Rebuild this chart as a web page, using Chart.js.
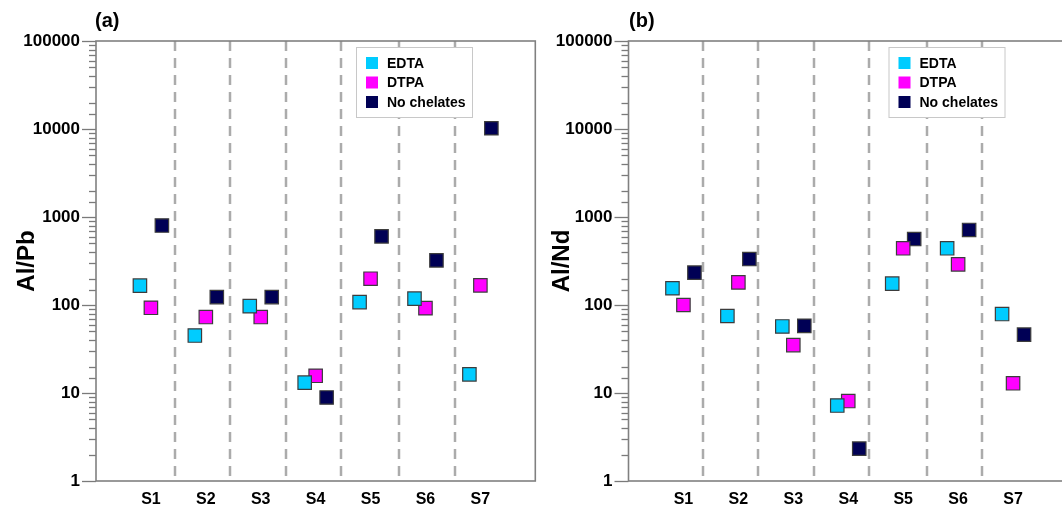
<!DOCTYPE html>
<html>
<head>
<meta charset="utf-8">
<script src="https://cdn.jsdelivr.net/npm/chart.js@4.4.0/dist/chart.umd.min.js"></script>
<style>
  html, body { margin: 0; padding: 0; background: #fff; overflow: hidden; }
  #wrap { position: relative; width: 1062px; height: 508px; overflow: hidden; }
  .panel { position: absolute; top: 0; height: 508px; }
  .tag { position: absolute; top: 9px; font: bold 20px "Liberation Sans", Arial, sans-serif; color: #000; }
</style>
</head>
<body>
<div id="wrap">
  <div class="panel" style="left:0;width:546px"><canvas id="chartA"></canvas></div>
  <div class="panel" style="left:540px;width:540px"><canvas id="chartB"></canvas></div>
  <div class="tag" style="left:95px">(a)</div>
  <div class="tag" style="left:629px">(b)</div>
</div>
<script>
const sites = ["S1", "S2", "S3", "S4", "S5", "S6", "S7"];
const seriesNames = ["EDTA", "DTPA", "No chelates"];
const yMajorTicks = [1, 10, 100, 1000, 10000, 100000];

// (a) Al/Pb
const edtaPb = [166, 45, 97, 13.1, 108, 118, 16.3];
const dtpaPb = [93, 73, 73, 15.7, 199, 92, 167];
const noChelPb = [800, 123, 123, 8.9, 603, 322, 10200];
const dividersA = [1.43, 2.44, 3.46, 4.47, 5.52, 6.54];

// (b) Al/Nd
const edtaNd = [155, 75, 57, 7.2, 175, 441, 79];
const dtpaNd = [100, 181, 35, 8.1, 441, 290, 12.9];
const noChelNd = [233, 333, 58, 2.33, 562, 712, 46];
const dividersB = [1.36, 2.36, 3.37, 4.38, 5.43, 6.44];

const colors = ["#00ccff", "#ff00ff", "#000055"];
const offsets = [-0.2, 0, 0.2];
const FONT = '"Liberation Sans", Arial, sans-serif';

const isPow10 = v => Math.abs(Math.log10(v) - Math.round(Math.log10(v))) < 1e-9;

const decor = {
  id: "decor",
  beforeDatasetsDraw(chart, args, opts) {
    const { ctx, chartArea: a, scales: { x, y } } = chart;
    ctx.save();
    // dashed site separators
    ctx.strokeStyle = "#ababab";
    ctx.lineWidth = 2.5;
    ctx.setLineDash([10, 7]);
    opts.dividers.forEach(d => {
      const px = Math.round(x.getPixelForValue(d));
      ctx.beginPath();
      ctx.moveTo(px, a.top);
      ctx.lineTo(px, a.bottom);
      ctx.stroke();
    });
    ctx.setLineDash([]);
    // y tick marks, long for decades, short for minors
    ctx.strokeStyle = "#7a7a7a";
    ctx.lineWidth = 1.3;
    y.ticks.forEach(t => {
      const py = Math.round(y.getPixelForValue(t.value)) + 0.5;
      const len = isPow10(t.value) ? 14 : 7;
      ctx.beginPath();
      ctx.moveTo(a.left - len, py);
      ctx.lineTo(a.left, py);
      ctx.stroke();
    });
    // frame
    ctx.strokeStyle = "#808080";
    ctx.lineWidth = 1.6;
    ctx.strokeRect(a.left, a.top, a.width, a.height);
    ctx.restore();
  },
  afterDatasetsDraw(chart) {
    const { ctx, chartArea: a } = chart;
    const bx = a.left + 260, by = 47, bw = 116, bh = 70;
    ctx.save();
    ctx.fillStyle = "#fff";
    ctx.fillRect(bx, by, bw, bh);
    ctx.strokeStyle = "#c8c8c8";
    ctx.lineWidth = 1;
    ctx.strokeRect(bx + 0.5, by + 0.5, bw, bh);
    ctx.font = "bold 14px " + FONT;
    ctx.textBaseline = "middle";
    chart.data.datasets.forEach((ds, i) => {
      const cy = 63 + i * 19.5;
      ctx.fillStyle = ds.backgroundColor;
      ctx.fillRect(bx + 10, cy - 6, 12, 12);
      ctx.fillStyle = "#000";
      ctx.fillText(ds.label, bx + 31, cy + 1);
    });
    ctx.restore();
  }
};

function makePanel(id, yTitle, values, dividers, axisWidth, padRight, titlePad) {
  const datasets = values.map((vals, k) => ({
    label: seriesNames[k],
    data: vals.map((v, i) => ({ x: i + 1 + offsets[k], y: v })),
    backgroundColor: colors[k],
    borderColor: "#3c3c3c",
    borderWidth: 1.2,
    pointStyle: "rect",
    pointRadius: 9.5,
    pointHoverRadius: 9.5
  }));

  new Chart(document.getElementById(id), {
    type: "scatter",
    data: { datasets },
    plugins: [decor],
    options: {
      responsive: true,
      maintainAspectRatio: false,
      animation: false,
      events: [],
      layout: { padding: { left: 0, right: padRight, top: 41, bottom: 0 } },
      plugins: {
        legend: { display: false },
        tooltip: { enabled: false },
        decor: { dividers }
      },
      scales: {
        x: {
          type: "linear",
          min: 0,
          max: 8,
          grid: { display: false, drawTicks: false },
          border: { display: false },
          afterBuildTicks: s => { s.ticks = sites.map((n, i) => ({ value: i + 1 })); },
          afterFit: s => { s.height = 27; },
          ticks: {
            autoSkip: false,
            maxRotation: 0,
            padding: 9,
            color: "#000",
            font: { family: FONT, size: 16, weight: "bold" },
            callback: v => sites[v - 1]
          }
        },
        y: {
          type: "logarithmic",
          min: 1,
          max: 100000,
          grid: { display: false, drawTicks: false },
          border: { display: false },
          afterFit: s => { s.width = axisWidth; },
          ticks: {
            autoSkip: false,
            padding: 16,
            color: "#000",
            font: { family: FONT, size: 17, weight: "bold" },
            callback: v => (isPow10(v) && yMajorTicks.includes(Math.round(v)) ? String(Math.round(v)) : "")
          },
          title: {
            display: true,
            text: yTitle,
            color: "#000",
            font: { family: FONT, size: 24, weight: "bold" },
            padding: { top: titlePad, bottom: 0 }
          }
        }
      }
    }
  });
}

makePanel("chartA", "Al/Pb", [edtaPb, dtpaPb, noChelPb], dividersA, 96, 10, 13);
makePanel("chartB", "Al/Nd", [edtaNd, dtpaNd, noChelNd], dividersB, 88.5, 12, 8);
</script>
</body>
</html>
